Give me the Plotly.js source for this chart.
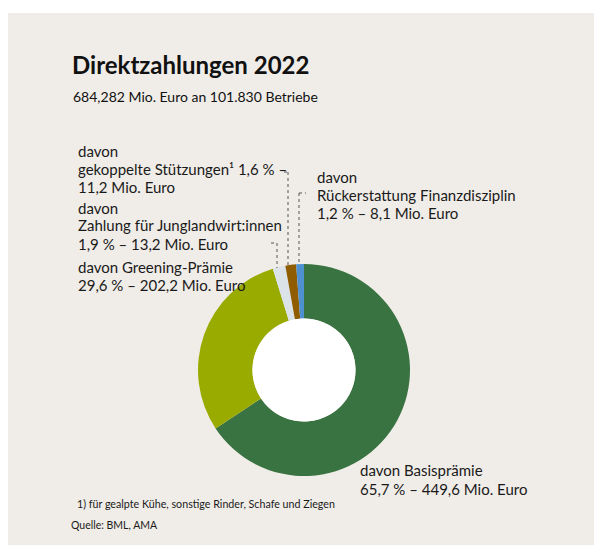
<!DOCTYPE html>
<html>
<head>
<meta charset="utf-8">
<script src="https://cdn.plot.ly/plotly-3.0.1.min.js"></script>
<style>html,body{margin:0;padding:0;background:#fff;}#chart{width:594px;height:545px;}</style>
</head>
<body>
<div id="chart"></div>
<script>
// Data
const categories = ["Basisprämie", "Greening-Prämie", "Zahlung für Junglandwirt:innen", "gekoppelte Stützungen", "Rückerstattung Finanzdisziplin"];
const valuesMio = [449.6, 202.2, 13.2, 11.2, 8.1];
const percents = ["65,7", "29,6", "1,9", "1,6", "1,2"];
const amountLabels = ["449,6", "202,2", "13,2", "11,2", "8,1"];
const sliceColors = ["#3a7342", "#9aab00", "#dce3e8", "#8f5c00", "#4e90d0"];

const W = 594, H = 545;
const px = x => x / W;
const py = y => 1 - y / H;

const font = "Lato, 'Open Sans', sans-serif";
const textColor = "#1a1a1a";
const labelSize = 15;

const pieCx = 304, pieCy = 370, pieR = 106, holeFrac = 0.486;

const trace = {
  type: "pie",
  labels: categories,
  values: valuesMio,
  marker: { colors: sliceColors, line: { width: 0 } },
  hole: holeFrac,
  sort: false,
  direction: "clockwise",
  rotation: 0,
  textinfo: "none",
  hoverinfo: "label+value+percent",
  showlegend: false,
  domain: { x: [px(pieCx - pieR), px(pieCx + pieR)], y: [py(pieCy + pieR), py(pieCy - pieR)] }
};

function ann(text, x, y, opts) {
  return Object.assign({
    text: text, xref: "paper", yref: "paper", x: px(x), y: py(y),
    xanchor: "left", yanchor: "middle", align: "left", showarrow: false,
    font: { family: font, size: labelSize, color: textColor }
  }, opts || {});
}
// block of lines, each its own annotation for exact spacing
function block(lines, x, y0, step, opts) {
  return lines.map((t, i) => ann(t, x, y0 + i * step, opts));
}

const step = 18;
const annotations = [].concat(
  [ann("<b>Direktzahlungen 2022</b>", 70, 65, { font: { family: font, size: 24, color: "#111" } }),
   ann("684,282 Mio. Euro an 101.830 Betriebe", 71, 97, { font: { family: font, size: 14, color: "#111" } })],
  block(["davon", "gekoppelte Stützungen¹ " + percents[3] + " % –", amountLabels[3] + " Mio. Euro"], 76, 151, step),
  block(["davon", "Zahlung für Junglandwirt:innen", percents[2] + " % – " + amountLabels[2] + " Mio. Euro"], 76, 207.5, step),
  block(["davon Greening-Prämie", percents[1] + " % – " + amountLabels[1] + " Mio. Euro"], 76, 267, step),
  block(["davon", "Rückerstattung Finanzdisziplin", percents[4] + " % – " + amountLabels[4] + " Mio. Euro"], 315, 176.5, step),
  block(["davon Basisprämie", percents[0] + " % – " + amountLabels[0] + " Mio. Euro"], 358, 469.5, 19),
  [ann("1) für gealpte Kühe, sonstige Rinder, Schafe und Ziegen", 75, 503, { font: { family: font, size: 10.7, color: textColor } }),
   ann("Quelle: BML, AMA", 69, 525, { font: { family: font, size: 10.5, color: textColor } })]
);

const dot = { color: "#555", width: 1, dash: "dot" };
const seg = (x0, y0, x1, y1) => ({ type: "line", xref: "paper", yref: "paper", x0: px(x0), y0: py(y0), x1: px(x1), y1: py(y1), line: dot });

const holeR = pieR * holeFrac;
const shapes = [
  { type: "rect", xref: "paper", yref: "paper", x0: px(8), x1: 1, y0: 0, y1: py(13), fillcolor: "#f0ede8", line: { width: 0 }, layer: "below" },
  { type: "circle", xref: "paper", yref: "paper", x0: px(pieCx - holeR), x1: px(pieCx + holeR), y0: py(pieCy + holeR), y1: py(pieCy - holeR), fillcolor: "#ffffff", line: { width: 0 }, layer: "above" },
  // Junglandwirt leader
  seg(271, 243, 277, 243), seg(277, 243, 277, 268),
  // gekoppelte leader
  seg(284, 172, 288, 172), seg(288, 172, 288, 266),
  // Rückerstattung leader
  seg(299, 193, 306, 193), seg(299, 193, 299, 264)
];

const layout = {
  width: W, height: H,
  margin: { l: 0, r: 0, t: 0, b: 0 },
  paper_bgcolor: "#ffffff",
  font: { family: font, color: textColor },
  annotations: annotations,
  shapes: shapes
};

Plotly.newPlot("chart", [trace], layout, { displayModeBar: false, staticPlot: true });
</script>
</body>
</html>
